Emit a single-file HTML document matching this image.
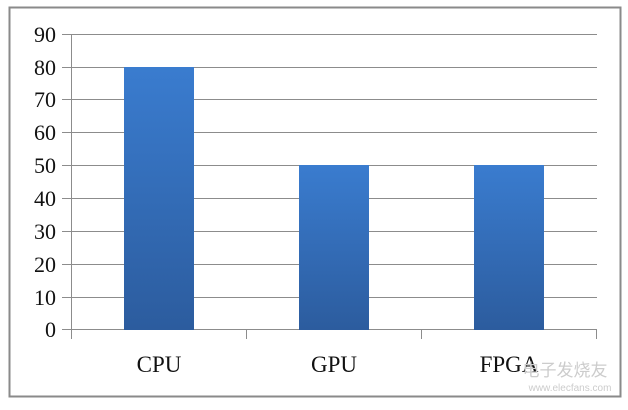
<!DOCTYPE html>
<html><head><style>body{margin:0;background:#fff}</style></head><body>
<svg width="628" height="405" xmlns="http://www.w3.org/2000/svg" font-family="Liberation Serif, serif">
<defs><linearGradient id="g" x1="0" y1="0" x2="0" y2="1"><stop offset="0" stop-color="#3a7ccf"/><stop offset="1" stop-color="#2c5c9e"/></linearGradient></defs>
<rect x="9.5" y="7.5" width="611" height="389" fill="#fff" stroke="#8a8a8a" stroke-width="2"/>
<g stroke="#8c8c8c" stroke-width="1">
<line x1="62" y1="34.5" x2="597" y2="34.5"/><line x1="62" y1="67.5" x2="597" y2="67.5"/>
<line x1="62" y1="99.5" x2="597" y2="99.5"/><line x1="62" y1="132.5" x2="597" y2="132.5"/>
<line x1="62" y1="165.5" x2="597" y2="165.5"/><line x1="62" y1="198.5" x2="597" y2="198.5"/>
<line x1="62" y1="231.5" x2="597" y2="231.5"/><line x1="62" y1="264.5" x2="597" y2="264.5"/>
<line x1="62" y1="297.5" x2="597" y2="297.5"/><line x1="62" y1="329.5" x2="597" y2="329.5"/>
<line x1="71.5" y1="34" x2="71.5" y2="339"/>
<line x1="246.5" y1="329" x2="246.5" y2="339"/><line x1="421.5" y1="329" x2="421.5" y2="339"/><line x1="596.5" y1="329" x2="596.5" y2="339"/>
</g>
<rect x="124" y="67" width="70" height="263" fill="url(#g)"/>
<rect x="299" y="165" width="70" height="165" fill="url(#g)"/>
<rect x="474" y="165" width="70" height="165" fill="url(#g)"/>
<g font-size="22" text-anchor="end" fill="#111">
<text x="56" y="42">90</text><text x="56" y="75">80</text><text x="56" y="107">70</text>
<text x="56" y="140">60</text><text x="56" y="173">50</text><text x="56" y="206">40</text>
<text x="56" y="239">30</text><text x="56" y="272">20</text><text x="56" y="305">10</text>
<text x="56" y="337">0</text></g>
<g font-size="23" text-anchor="middle" fill="#111">
<text x="159" y="372">CPU</text><text x="334" y="372">GPU</text><text x="509" y="372">FPGA</text></g>
<text x="565" y="376" font-size="17" fill="#ccc" text-anchor="middle" font-family="Noto Sans CJK SC, sans-serif">电子发烧友</text>
<text x="570" y="391" font-size="10" fill="#ccc" text-anchor="middle" font-family="Liberation Sans, sans-serif">www.elecfans.com</text>
</svg>
</body></html>
